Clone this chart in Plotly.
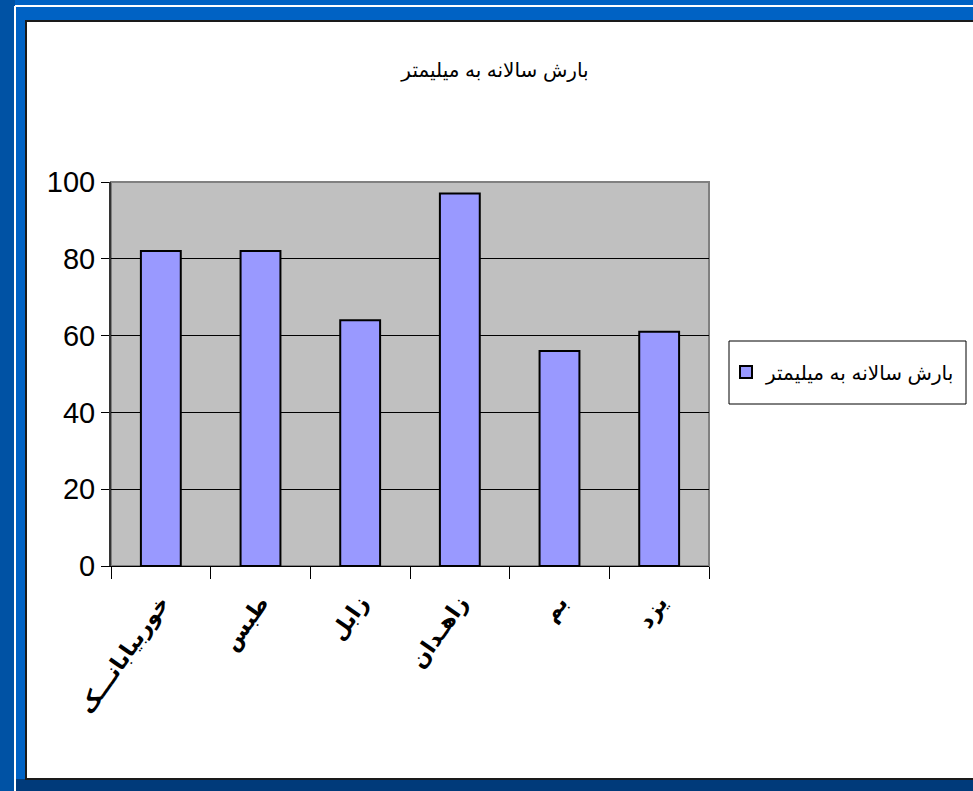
import plotly.graph_objects as go

W, H = 973, 791

cities = ["خوربیابانـــک", "طبس", "زابل", "زاهـدان", "بم", "یزد"]
rainfall = [82, 82, 64, 97, 56, 61]
series_name = "بارش سالانه به میلیمتر"
y_ticks = [0, 20, 40, 60, 80, 100]

FONT = "Liberation Sans, Arial, DejaVu Sans, sans-serif"
NARROW = "Liberation Sans Narrow, Arial Narrow, Liberation Sans, sans-serif"


def px_x(x):
    return x / W


def px_y(y):
    return 1 - y / H


fig = go.Figure()

fig.add_trace(
    go.Bar(
        x=cities,
        y=rainfall,
        name=series_name,
        marker=dict(color="#9999FF", line=dict(color="black", width=2)),
        showlegend=True,
    )
)

shapes = [
    # slide background strips
    dict(type="rect", xref="paper", yref="paper", x0=0, x1=1, y0=0, y1=px_y(779),
         fillcolor="#003A7A", line_width=0, layer="below"),
    dict(type="rect", xref="paper", yref="paper", x0=0, x1=px_x(15), y0=0, y1=1,
         fillcolor="#0052A4", line_width=0, layer="below"),
    dict(type="line", xref="paper", yref="paper", x0=px_x(15), x1=1, y0=px_y(6), y1=px_y(6),
         line=dict(color="white", width=2), layer="below"),
    dict(type="line", xref="paper", yref="paper", x0=px_x(15), x1=px_x(15), y0=0, y1=px_y(6),
         line=dict(color="white", width=2), layer="below"),
    # white chart panel
    dict(type="rect", xref="paper", yref="paper", x0=px_x(26), x1=1.01, y0=px_y(779), y1=px_y(21),
         fillcolor="white", line=dict(color="#1a1a1a", width=2), layer="below"),
    # grey plot area
    dict(type="rect", xref="x domain", yref="y domain", x0=0, x1=1, y0=0, y1=1,
         fillcolor="#C0C0C0", line=dict(color="#808080", width=2), layer="below"),
    # legend frame
    dict(type="rect", xref="paper", yref="paper", x0=px_x(729), x1=px_x(966), y0=px_y(404), y1=px_y(341),
         fillcolor="white", line=dict(color="black", width=1), layer="below"),
]

fig.update_layout(
    width=W,
    height=H,
    margin=dict(l=0, r=0, t=0, b=0, autoexpand=False),
    paper_bgcolor="#0062C4",
    plot_bgcolor="#C0C0C0",
    font=dict(family=FONT, color="black"),
    title=dict(text=series_name, x=495 / W, xanchor="center", y=px_y(70), yanchor="middle",
               font=dict(size=20, family=FONT, color="black")),
    bargap=0.6,
    shapes=shapes,
    legend=dict(
        x=px_x(726), y=px_y(372), xanchor="left", yanchor="middle",
        bgcolor="rgba(0,0,0,0)", borderwidth=0,
        font=dict(size=20, family=FONT, color="black"),
    ),
    xaxis=dict(
        domain=[px_x(111), px_x(709)],
        showline=True, linecolor="black", linewidth=1,
        ticks="outside", tickson="boundaries", ticklen=12, tickcolor="black",
        tickangle=-55, ticklabelstandoff=14,
        tickfont=dict(size=22, family=FONT, color="black", weight="bold"),
        showgrid=False,
    ),
    yaxis=dict(
        domain=[px_y(566), px_y(182)],
        range=[0, 100],
        tickvals=y_ticks,
        showline=True, linecolor="#333333", linewidth=2,
        ticks="outside", ticklen=8, tickcolor="black",
        tickfont=dict(size=29, family=NARROW, color="black"),
        showgrid=True, gridcolor="black", gridwidth=1,
        zeroline=False,
    ),
)

fig.write_html("out.html", config={"displayModeBar": False},
               post_script="document.body.style.margin='0';")
